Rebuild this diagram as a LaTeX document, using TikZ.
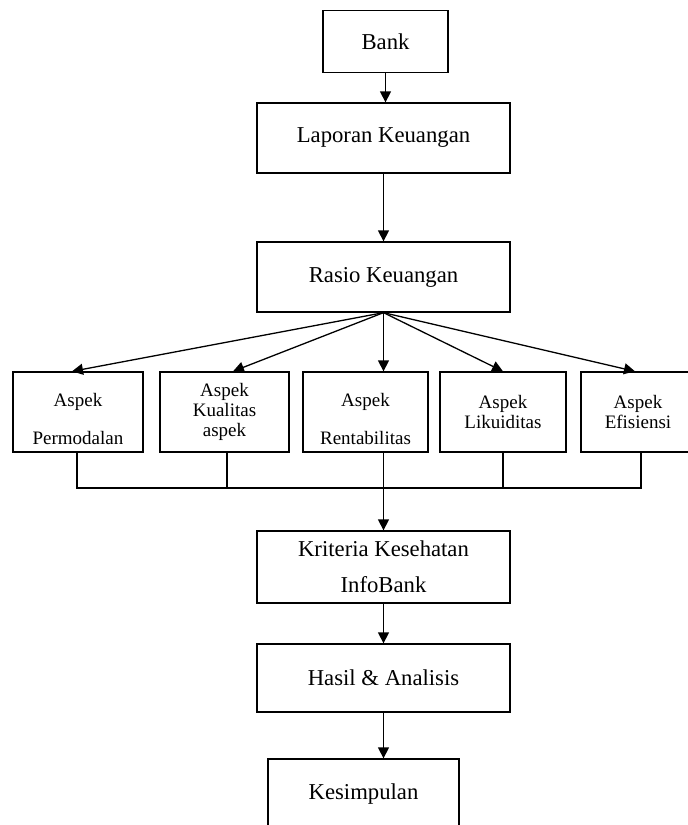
\documentclass[tikz,border=0pt]{standalone}
\usepackage{fontspec}
\setmainfont{Liberation Serif}
\usetikzlibrary{arrows.meta}
\begin{document}
\begin{tikzpicture}[x=0.5pt,y=-0.5pt,
  kotak/.style={draw,line width=0.65pt,minimum width=126.5pt,minimum height=35pt,inner sep=0pt,align=center,font=\fontsize{11.35}{13.6}\selectfont},
  aspek/.style={draw,line width=0.65pt,minimum height=40pt,inner sep=0pt,align=center,font=\fontsize{9.5}{10}\selectfont},
  panah/.style={-{Triangle[length=5.5pt,width=5.5pt]},line width=0.65pt},
  garis/.style={line width=0.65pt}]
  \useasboundingbox (0,0) rectangle (688,825);

  %kotak atas
	\node[kotak,minimum width=62.5pt,minimum height=31pt] (bank) at (385.5,41.5) {Bank};
	\node[kotak] (lap) at (383.5,138) {Laporan Keuangan};
	\node[kotak] (rasio) at (383.5,277) {Rasio Keuangan};

  %aspek
	\node[aspek,minimum width=65pt] (a1) at (78,412) {\rule{0pt}{13.5pt}Aspek\\[9pt]Permodalan};
	\node[aspek,minimum width=64.5pt] (a2) at (224.5,412) {Aspek\\Kualitas\\aspek};
	\node[aspek,minimum width=62.5pt] (a3) at (365.5,412) {\rule{0pt}{13.5pt}Aspek\\[9pt]Rentabilitas};
	\node[aspek,minimum width=63pt] (a4) at (503,412) {Aspek\\Likuiditas};
	\node[aspek,minimum width=57pt] (a5) at (638,412) {Aspek\\Efisiensi};

  %kotak bawah
	\node[kotak,minimum height=36pt] (krit) at (383.5,567) {Kriteria Kesehatan\\[4.4pt]InfoBank};
	\node[kotak,minimum height=34pt] (hasil) at (383.5,678) {Hasil \& Analisis};
	\node[kotak,minimum width=95.5pt] (simpul) at (363.5,794) {Kesimpulan};

  %panah atas
	\draw[panah] (bank.south) -- (bank.south |- lap.north);
	\draw[panah] (lap) -- (rasio);
	\foreach \t/\dx in {a1/-3pt,a2/4.25pt,a4/0pt,a5/-1.5pt}
		\draw[panah] (rasio.south) -- ([xshift=\dx]\t.north);
	\draw[panah] (rasio.south) -- (rasio.south |- a3.north);

  %garis gabung
	\coordinate (bus) at (383.5,488);
	\draw[garis] ([xshift=-0.5pt]a1.south) |- (bus) -| ([xshift=1.5pt]a5.south);
	\draw[garis] ([xshift=1.25pt]a2.south) -- ([xshift=1.25pt]a2.south |- bus);
	\draw[garis] (bus |- a3.south) -- (bus);
	\draw[garis] (a4.south) -- (a4.south |- bus);

  %panah bawah
	\draw[panah] (bus) -- (krit.north);
	\draw[panah] (krit) -- (hasil);
	\draw[panah] (hasil.south) -- (hasil.south |- simpul.north);
\end{tikzpicture}
\end{document}
